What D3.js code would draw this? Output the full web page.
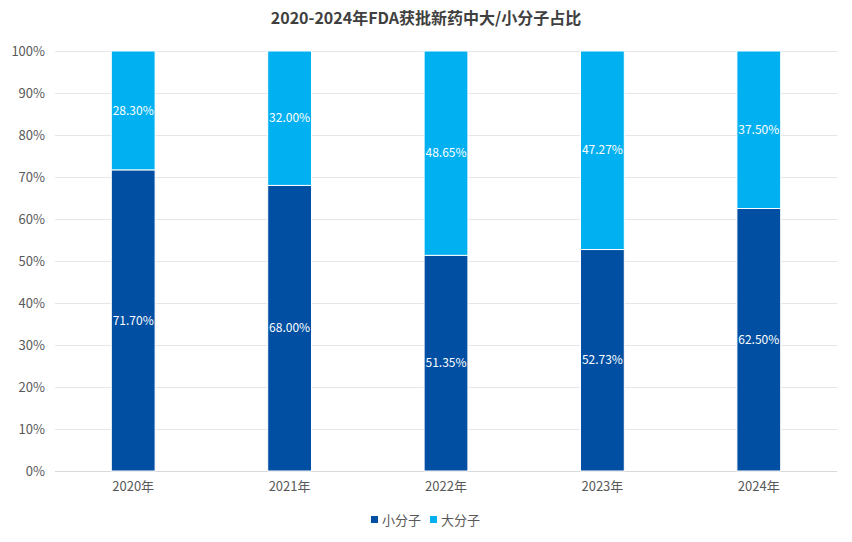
<!DOCTYPE html>
<html><head><meta charset="utf-8">
<script src="https://cdn.jsdelivr.net/npm/d3@7/dist/d3.min.js"></script>
<style>body{margin:0;background:#fff;} svg{display:block;font-family:"Noto Sans CJK SC","Noto Sans",sans-serif;}</style>
</head><body>
<svg id="c" width="852" height="542"></svg>
<script>
const categories = ["2020年","2021年","2022年","2023年","2024年"];
const seriesNames = ["小分子","大分子"];
const smallMolecule = [71.70, 68.00, 51.35, 52.73, 62.50];
const largeMolecule = [28.30, 32.00, 48.65, 47.27, 37.50];
const yTicks = [0,10,20,30,40,50,60,70,80,90,100];
const colors = ["#004fa2","#00b0f0"];
const title = "2020-2024年FDA获批新药中大/小分子占比";

const svg = d3.select("#c");
const m = {l:55, r:15, t:51, b:71};
const W = 852, H = 542;
const x = d3.scaleBand().domain(categories).range([m.l, W-m.r]).paddingInner(0.72).paddingOuter(0.36);
const y = d3.scaleLinear().domain([0,100]).range([H-m.b, m.t]);

svg.append("text").attr("x",426).attr("y",24).attr("text-anchor","middle")
  .attr("font-size",16).attr("font-weight","bold").attr("fill","#404040").text(title);

// grid
svg.append("g").selectAll("line").data(yTicks).join("line")
  .attr("x1",m.l).attr("x2",W-m.r).attr("y1",d=>y(d)+0.5).attr("y2",d=>y(d)+0.5)
  .attr("stroke",d=>d===0?"#d9d9d9":"#e6e6e6").attr("stroke-width",1);

// y axis labels
svg.append("g").selectAll("text").data(yTicks).join("text")
  .attr("x",45).attr("y",d=>y(d)).attr("dy","0.35em").attr("text-anchor","end")
  .attr("font-size",13).attr("fill","#595959").text(d=>d+"%");

// x labels
svg.append("g").selectAll("text").data(categories).join("text")
  .attr("x",d=>x(d)+x.bandwidth()/2).attr("y",491).attr("text-anchor","middle")
  .attr("font-size",13).attr("fill","#595959").text(d=>d);

const stackData = categories.map((c,i)=>({cat:c, "小分子":smallMolecule[i], "大分子":largeMolecule[i]}));
const stacked = d3.stack().keys(seriesNames)(stackData);

const g = svg.append("g");
stacked.forEach((s,si)=>{
  g.append("g").selectAll("rect").data(s).join("rect")
    .attr("x",d=>x(d.data.cat)).attr("width",x.bandwidth())
    .attr("y",d=>y(d[1])).attr("height",d=>y(d[0])-y(d[1]))
    .attr("fill",colors[si]).attr("stroke","#fff").attr("stroke-width",1);
});
stacked.forEach((s,si)=>{
  g.append("g").selectAll("text").data(s).join("text")
    .attr("x",d=>x(d.data.cat)+x.bandwidth()/2).attr("y",d=>y((d[0]+d[1])/2))
    .attr("dy","0.35em").attr("text-anchor","middle").attr("font-size",12)
    .attr("fill","#fff").text(d=>(d[1]-d[0]).toFixed(2)+"%");
});

// legend
const lg = svg.append("g");
const items = [{n:"小分子",c:colors[0],x:371},{n:"大分子",c:colors[1],x:430}];
items.forEach(it=>{
  lg.append("rect").attr("x",it.x).attr("y",516).attr("width",7).attr("height",7).attr("fill",it.c);
  lg.append("text").attr("x",it.x+11).attr("y",520).attr("dy","0.35em").attr("font-size",13).attr("fill","#595959").text(it.n);
});
</script>
</body></html>
